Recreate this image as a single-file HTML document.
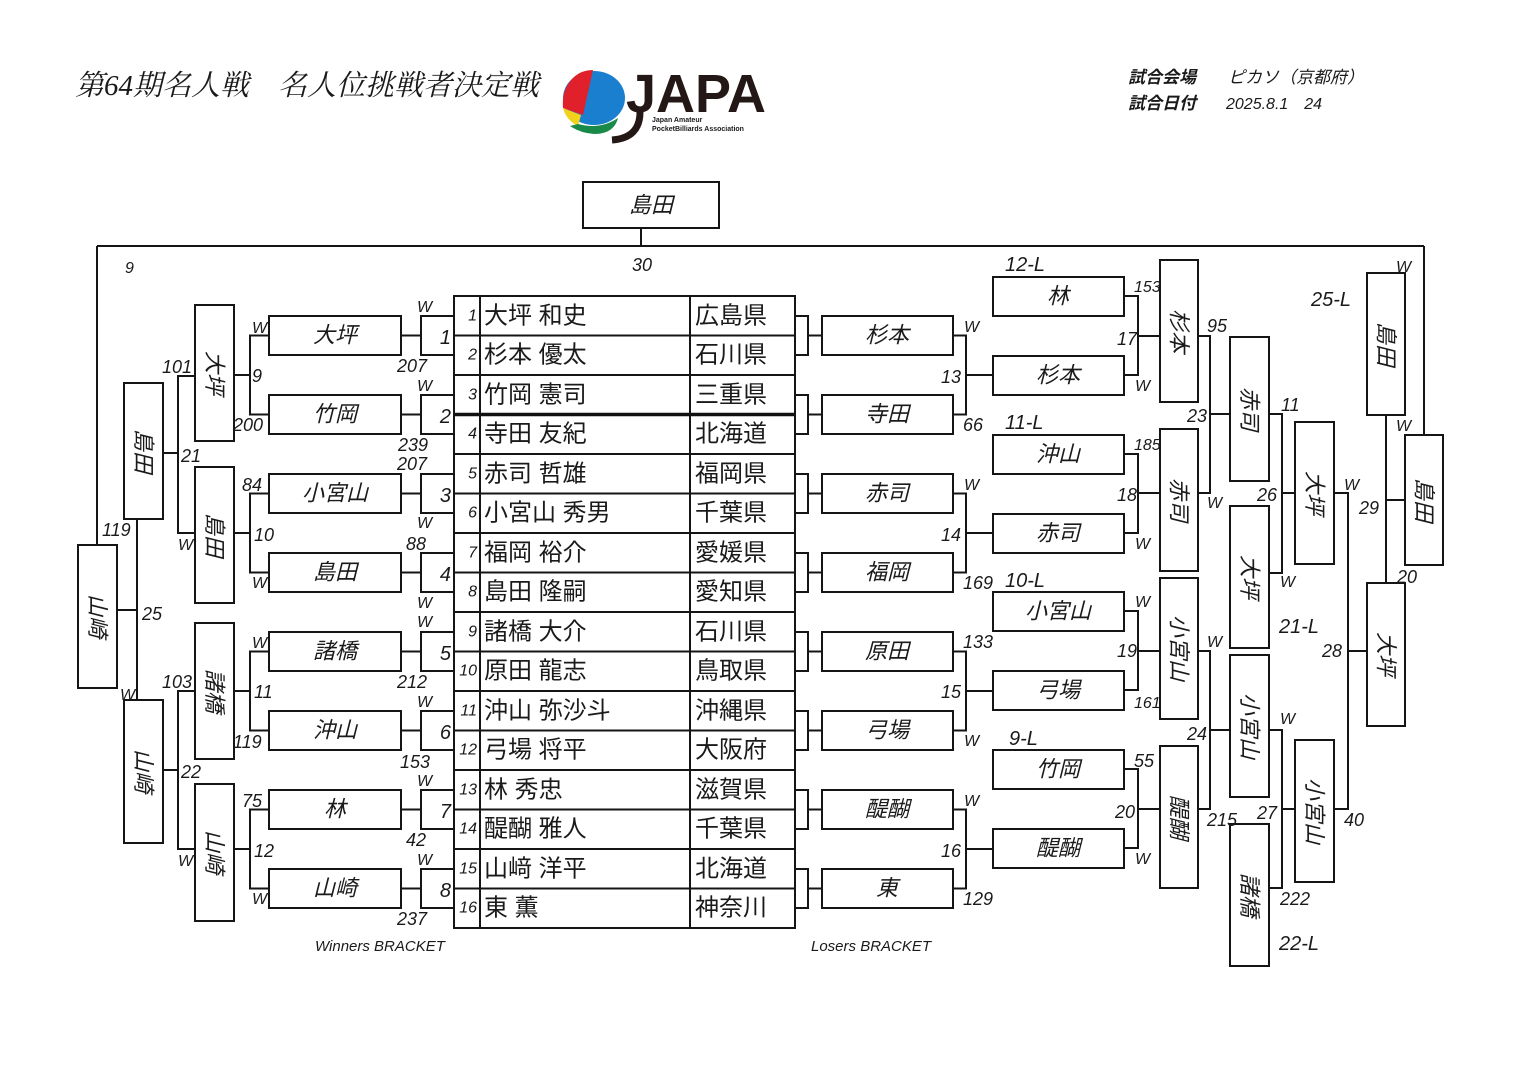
<!DOCTYPE html>
<html><head><meta charset="utf-8"><style>
html,body{margin:0;padding:0;background:#fff}
svg{display:block}
.b{fill:#fff;stroke:#151515;stroke-width:2}
.l{stroke:#151515;stroke-width:2;fill:none}
text{font-family:"Liberation Sans","Noto Sans CJK JP",sans-serif;fill:#1a1a1a}
.n{font-size:22px;font-style:italic;text-anchor:middle;dominant-baseline:central}
.s{font-size:18px;font-style:italic}
.w text{font-family:"Liberation Sans Narrow","Liberation Sans",sans-serif;font-size:16px;font-style:italic}
.t{font-size:24px;dominant-baseline:central}
.r{font-size:16px;font-style:italic;text-anchor:end;dominant-baseline:central}
</style></head><body>
<svg width="1536" height="1087" viewBox="0 0 1536 1087" xmlns="http://www.w3.org/2000/svg">
<!-- header -->
<text x="75" y="95" style="font-family:'Liberation Serif','Noto Serif CJK SC',serif;font-size:29px;font-style:italic">第64期名人戦　名人位挑戦者決定戦</text>
<text x="1128" y="83" style="font-size:17px;font-weight:bold;font-style:italic">試合会場</text>
<text x="1228" y="83" style="font-size:17px;font-style:italic">ピカソ（京都府）</text>
<text x="1128" y="109" style="font-size:17px;font-weight:bold;font-style:italic">試合日付</text>
<text x="1226" y="109" style="font-size:16px;font-style:italic">2025.8.1　24</text>
<!-- logo -->
<g>
<ellipse cx="594" cy="98" rx="31" ry="27" fill="#1b7fd0"/>
<path d="M567,86 Q576,70 593,70 L583,115 L563,108 Q562,95 567,86Z" fill="#e0202a"/>
<path d="M563,108 L581,115 L578,126 Q566,120 563,108Z" fill="#f2d21a"/>
<path d="M578,124 Q600,130 618,118 Q614,134 594,134 Q580,133 570,126Z" fill="#1a8a4a"/>
<text x="626" y="112" style="font-family:'Liberation Sans',sans-serif;font-size:54px;font-weight:bold;fill:#231815" textLength="140" lengthAdjust="spacingAndGlyphs">JAPA</text>
<path d="M640,112 Q640,138 612,140" stroke="#231815" stroke-width="7" fill="none"/>
<text x="652" y="122" style="font-size:7px;font-weight:bold">Japan Amateur</text>
<text x="652" y="131" style="font-size:7px;font-weight:bold">PocketBilliards Association</text>
</g>

<!-- top -->
<rect class="b" x="583" y="182" width="136" height="46"/>
<text class="n" x="651" y="205">島田</text>
<path class="l" d="M641,228V246M97,246H1424M97,246V545M1424,246V435"/>
<text class="s" x="632" y="271">30</text>
<text class="s" x="125" y="273" style="font-size:16px">9</text>

<!-- table -->
<rect class="b" x="454" y="296" width="341" height="632"/>
<path class="l" d="M480,296V928M690,296V928
M454,335.5H795M454,375H795M454,454H795M454,493.5H795M454,533H795M454,572.5H795M454,612H795M454,651.5H795M454,691H795M454,730.5H795M454,770H795M454,809.5H795M454,849H795M454,888.5H795"/>
<path d="M454,414.5H795" stroke="#111" stroke-width="3.5"/>
<g>
<text class="r" x="477" y="316">1</text><text class="t" x="484" y="316">大坪 和史</text><text class="t" x="695" y="316">広島県</text>
<text class="r" x="477" y="355">2</text><text class="t" x="484" y="355">杉本 優太</text><text class="t" x="695" y="355">石川県</text>
<text class="r" x="477" y="395">3</text><text class="t" x="484" y="395">竹岡 憲司</text><text class="t" x="695" y="395">三重県</text>
<text class="r" x="477" y="434">4</text><text class="t" x="484" y="434">寺田 友紀</text><text class="t" x="695" y="434">北海道</text>
<text class="r" x="477" y="474">5</text><text class="t" x="484" y="474">赤司 哲雄</text><text class="t" x="695" y="474">福岡県</text>
<text class="r" x="477" y="513">6</text><text class="t" x="484" y="513">小宮山 秀男</text><text class="t" x="695" y="513">千葉県</text>
<text class="r" x="477" y="553">7</text><text class="t" x="484" y="553">福岡 裕介</text><text class="t" x="695" y="553">愛媛県</text>
<text class="r" x="477" y="592">8</text><text class="t" x="484" y="592">島田 隆嗣</text><text class="t" x="695" y="592">愛知県</text>
<text class="r" x="477" y="632">9</text><text class="t" x="484" y="632">諸橋 大介</text><text class="t" x="695" y="632">石川県</text>
<text class="r" x="477" y="671">10</text><text class="t" x="484" y="671">原田 龍志</text><text class="t" x="695" y="671">鳥取県</text>
<text class="r" x="477" y="711">11</text><text class="t" x="484" y="711">沖山 弥沙斗</text><text class="t" x="695" y="711">沖縄県</text>
<text class="r" x="477" y="750">12</text><text class="t" x="484" y="750">弓場 将平</text><text class="t" x="695" y="750">大阪府</text>
<text class="r" x="477" y="790">13</text><text class="t" x="484" y="790">林 秀忠</text><text class="t" x="695" y="790">滋賀県</text>
<text class="r" x="477" y="829">14</text><text class="t" x="484" y="829">醍醐 雅人</text><text class="t" x="695" y="829">千葉県</text>
<text class="r" x="477" y="869">15</text><text class="t" x="484" y="869">山﨑 洋平</text><text class="t" x="695" y="869">北海道</text>
<text class="r" x="477" y="908">16</text><text class="t" x="484" y="908">東 薫</text><text class="t" x="695" y="908">神奈川</text>
</g>

<!-- WB round1 small boxes -->
<g>
<path class="l" d="M454,316V355H421V316H454M454,395V434H421V395H454M454,474V513H421V474H454M454,553V592H421V553H454M454,632V671H421V632H454M454,711V750H421V711H454M454,790V829H421V790H454M454,869V908H421V869H454"/>
<path class="l" d="M401,335.5H421M401,414.5H421M401,493.5H421M401,572.5H421M401,651.5H421M401,730.5H421M401,809.5H421M401,888.5H421"/>
<g class="s" style="font-size:20px;text-anchor:end">
<text x="451" y="344">1</text><text x="451" y="423">2</text><text x="451" y="502">3</text><text x="451" y="581">4</text>
<text x="451" y="660">5</text><text x="451" y="739">6</text><text x="451" y="818">7</text><text x="451" y="897">8</text>
</g>
</g>
<!-- WB name boxes -->
<g>
<rect class="b" x="269" y="316" width="132" height="39"/><text class="n" x="335" y="335">大坪</text>
<rect class="b" x="269" y="395" width="132" height="39"/><text class="n" x="335" y="414">竹岡</text>
<rect class="b" x="269" y="474" width="132" height="39"/><text class="n" x="335" y="493">小宮山</text>
<rect class="b" x="269" y="553" width="132" height="39"/><text class="n" x="335" y="572">島田</text>
<rect class="b" x="269" y="632" width="132" height="39"/><text class="n" x="335" y="651">諸橋</text>
<rect class="b" x="269" y="711" width="132" height="39"/><text class="n" x="335" y="730">沖山</text>
<rect class="b" x="269" y="790" width="132" height="39"/><text class="n" x="335" y="809">林</text>
<rect class="b" x="269" y="869" width="132" height="39"/><text class="n" x="335" y="888">山崎</text>
</g>
<path class="l" d="M269,335.5H250V414.5H269M234,375H250M269,493.5H250V572.5H269M234,533H250M269,651.5H250V730.5H269M234,691H250M269,809.5H250V888.5H269M234,849H250"/>
<!-- WB R2 -->
<rect class="b" x="195" y="305" width="39" height="136"/><text class="n" transform="rotate(90 214.5 373)" x="214.5" y="373">大坪</text>
<rect class="b" x="195" y="467" width="39" height="136"/><text class="n" transform="rotate(90 214.5 535)" x="214.5" y="535">島田</text>
<rect class="b" x="195" y="623" width="39" height="136"/><text class="n" transform="rotate(90 214.5 691)" x="214.5" y="691">諸橋</text>
<rect class="b" x="195" y="784" width="39" height="137"/><text class="n" transform="rotate(90 214.5 852)" x="214.5" y="852">山崎</text>
<path class="l" d="M195,376H178V533H195M163,453H178M195,691H178V849H195M163,770H178"/>
<!-- WB R3 -->
<rect class="b" x="124" y="383" width="39" height="136"/><text class="n" transform="rotate(90 143.5 451)" x="143.5" y="451">島田</text>
<rect class="b" x="124" y="700" width="39" height="143"/><text class="n" transform="rotate(90 143.5 771)" x="143.5" y="771">山崎</text>
<path class="l" d="M137,519V700M117,610H137"/>
<rect class="b" x="78" y="545" width="39" height="143"/><text class="n" transform="rotate(90 97.5 616)" x="97.5" y="616">山崎</text>

<!-- WB labels -->
<g class="s">
<text x="252" y="382">9</text><text x="254" y="541">10</text><text x="254" y="698">11</text><text x="254" y="857">12</text>
<text x="233" y="431">200</text><text x="242" y="491">84</text><text x="233" y="748">119</text><text x="242" y="807">75</text>
<text x="397" y="372">207</text><text x="398" y="451">239</text><text x="397" y="470">207</text><text x="406" y="550">88</text>
<text x="397" y="688">212</text><text x="400" y="768">153</text><text x="406" y="846">42</text><text x="397" y="925">237</text>
<text x="162" y="373">101</text><text x="181" y="462">21</text><text x="162" y="688">103</text><text x="181" y="778">22</text>
<text x="142" y="620">25</text><text x="102" y="536">119</text>
</g>
<g class="w">
<text x="252" y="333">W</text><text x="252" y="588">W</text><text x="252" y="648">W</text><text x="252" y="904">W</text>
<text x="417" y="312">W</text><text x="417" y="391">W</text><text x="417" y="528">W</text><text x="417" y="608">W</text>
<text x="417" y="627">W</text><text x="417" y="707">W</text><text x="417" y="786">W</text><text x="417" y="865">W</text>
<text x="178" y="550">W</text><text x="178" y="866">W</text><text x="120" y="700">W</text>
</g>

<!-- LB R1 -->
<path class="l" d="M795,316H808V355H795M808,335.5H822M795,395H808V434H795M808,414.5H822M795,474H808V513H795M808,493.5H822M795,553H808V592H795M808,572.5H822M795,632H808V671H795M808,651.5H822M795,711H808V750H795M808,730.5H822M795,790H808V829H795M808,809.5H822M795,869H808V908H795M808,888.5H822"/>
<g>
<rect class="b" x="822" y="316" width="131" height="39"/><text class="n" x="887" y="335">杉本</text>
<rect class="b" x="822" y="395" width="131" height="39"/><text class="n" x="887" y="414">寺田</text>
<rect class="b" x="822" y="474" width="131" height="39"/><text class="n" x="887" y="493">赤司</text>
<rect class="b" x="822" y="553" width="131" height="39"/><text class="n" x="887" y="572">福岡</text>
<rect class="b" x="822" y="632" width="131" height="39"/><text class="n" x="887" y="651">原田</text>
<rect class="b" x="822" y="711" width="131" height="39"/><text class="n" x="887" y="730">弓場</text>
<rect class="b" x="822" y="790" width="131" height="39"/><text class="n" x="887" y="809">醍醐</text>
<rect class="b" x="822" y="869" width="131" height="39"/><text class="n" x="887" y="888">東</text>
</g>
<path class="l" d="M953,335.5H966V414.5H953M966,375H993M953,493.5H966V572.5H953M966,533H993M953,651.5H966V730.5H953M966,691H993M953,809.5H966V888.5H953M966,849H993"/>
<!-- LB R2 -->
<g>
<rect class="b" x="993" y="277" width="131" height="39"/><text class="n" x="1058" y="296">林</text>
<rect class="b" x="993" y="356" width="131" height="39"/><text class="n" x="1058" y="375">杉本</text>
<rect class="b" x="993" y="435" width="131" height="39"/><text class="n" x="1058" y="454">沖山</text>
<rect class="b" x="993" y="514" width="131" height="39"/><text class="n" x="1058" y="533">赤司</text>
<rect class="b" x="993" y="592" width="131" height="39"/><text class="n" x="1058" y="611">小宮山</text>
<rect class="b" x="993" y="671" width="131" height="39"/><text class="n" x="1058" y="690">弓場</text>
<rect class="b" x="993" y="750" width="131" height="39"/><text class="n" x="1058" y="769">竹岡</text>
<rect class="b" x="993" y="829" width="131" height="39"/><text class="n" x="1058" y="848">醍醐</text>
</g>
<path class="l" d="M1124,296H1138V375H1124M1138,336H1160M1124,454H1138V533H1124M1138,493H1160M1124,611H1138V690H1124M1138,651H1160M1124,769H1138V848H1124M1138,809H1160"/>
<!-- LB R3 -->
<rect class="b" x="1160" y="260" width="38" height="142"/><text class="n" transform="rotate(90 1179 331)" x="1179" y="331">杉本</text>
<rect class="b" x="1160" y="429" width="38" height="142"/><text class="n" transform="rotate(90 1179 500)" x="1179" y="500">赤司</text>
<rect class="b" x="1160" y="578" width="38" height="141"/><text class="n" transform="rotate(90 1179 648)" x="1179" y="648">小宮山</text>
<rect class="b" x="1160" y="746" width="38" height="142"/><text class="n" transform="rotate(90 1179 817)" x="1179" y="817">醍醐</text>
<path class="l" d="M1198,336H1210V493H1198M1210,414H1230M1198,651H1210V809H1198M1210,730H1230"/>
<!-- LB R4 -->
<rect class="b" x="1230" y="337" width="39" height="144"/><text class="n" transform="rotate(90 1249.5 409)" x="1249.5" y="409">赤司</text>
<rect class="b" x="1230" y="506" width="39" height="142"/><text class="n" transform="rotate(90 1249.5 577)" x="1249.5" y="577">大坪</text>
<rect class="b" x="1230" y="655" width="39" height="142"/><text class="n" transform="rotate(90 1249.5 726)" x="1249.5" y="726">小宮山</text>
<rect class="b" x="1230" y="824" width="39" height="142"/><text class="n" transform="rotate(90 1249.5 895)" x="1249.5" y="895">諸橋</text>
<path class="l" d="M1269,414H1282V573H1269M1282,493H1295M1269,730H1282V888H1269M1282,809H1295"/>
<rect class="b" x="1295" y="422" width="39" height="142"/><text class="n" transform="rotate(90 1314.5 493)" x="1314.5" y="493">大坪</text>
<rect class="b" x="1295" y="740" width="39" height="142"/><text class="n" transform="rotate(90 1314.5 811)" x="1314.5" y="811">小宮山</text>
<path class="l" d="M1334,493H1348V809H1334M1348,651H1367"/>
<rect class="b" x="1367" y="583" width="38" height="143"/><text class="n" transform="rotate(90 1386 654)" x="1386" y="654">大坪</text>
<rect class="b" x="1367" y="273" width="38" height="142"/><text class="n" transform="rotate(90 1386 344)" x="1386" y="344">島田</text>
<path class="l" d="M1386,415V583M1386,500H1405"/>
<rect class="b" x="1405" y="435" width="38" height="130"/><text class="n" transform="rotate(90 1424 500)" x="1424" y="500">島田</text>

<!-- LB labels -->
<g class="s">
<text x="941" y="383">13</text><text x="941" y="541">14</text><text x="941" y="698">15</text><text x="941" y="857">16</text>
<text x="963" y="431">66</text><text x="963" y="589">169</text><text x="963" y="648">133</text><text x="963" y="905">129</text>
<text x="1005" y="271" style="font-size:20px">12-L</text><text x="1005" y="429" style="font-size:20px">11-L</text>
<text x="1005" y="587" style="font-size:20px">10-L</text><text x="1009" y="745" style="font-size:20px">9-L</text>
<text x="1117" y="345">17</text><text x="1117" y="501">18</text><text x="1117" y="657">19</text><text x="1115" y="818">20</text>
<text x="1134" y="292" style="font-size:16px">153</text><text x="1134" y="450" style="font-size:16px">185</text>
<text x="1134" y="708" style="font-size:16px">161</text><text x="1134" y="767">55</text>
<text x="1207" y="332">95</text><text x="1187" y="422">23</text><text x="1187" y="740">24</text><text x="1207" y="826">215</text>
<text x="1281" y="411">11</text><text x="1257" y="501">26</text><text x="1257" y="819">27</text><text x="1280" y="905">222</text>
<text x="1279" y="633" style="font-size:20px">21-L</text><text x="1279" y="950" style="font-size:20px">22-L</text>
<text x="1322" y="657">28</text><text x="1344" y="826">40</text>
<text x="1359" y="514">29</text><text x="1397" y="583">20</text>
<text x="1311" y="306" style="font-size:20px">25-L</text>
</g>
<g class="w">
<text x="964" y="332">W</text><text x="964" y="490">W</text><text x="964" y="746">W</text><text x="964" y="806">W</text>
<text x="1135" y="391">W</text><text x="1135" y="549">W</text><text x="1135" y="607">W</text><text x="1135" y="864">W</text>
<text x="1207" y="508">W</text><text x="1207" y="647">W</text>
<text x="1280" y="587">W</text><text x="1280" y="724">W</text>
<text x="1344" y="490">W</text>
<text x="1396" y="272">W</text><text x="1396" y="431">W</text>
</g>

<text x="315" y="951" style="font-size:15px;font-style:italic">Winners BRACKET</text>
<text x="811" y="951" style="font-size:15px;font-style:italic">Losers BRACKET</text>
</svg>
</body></html>
